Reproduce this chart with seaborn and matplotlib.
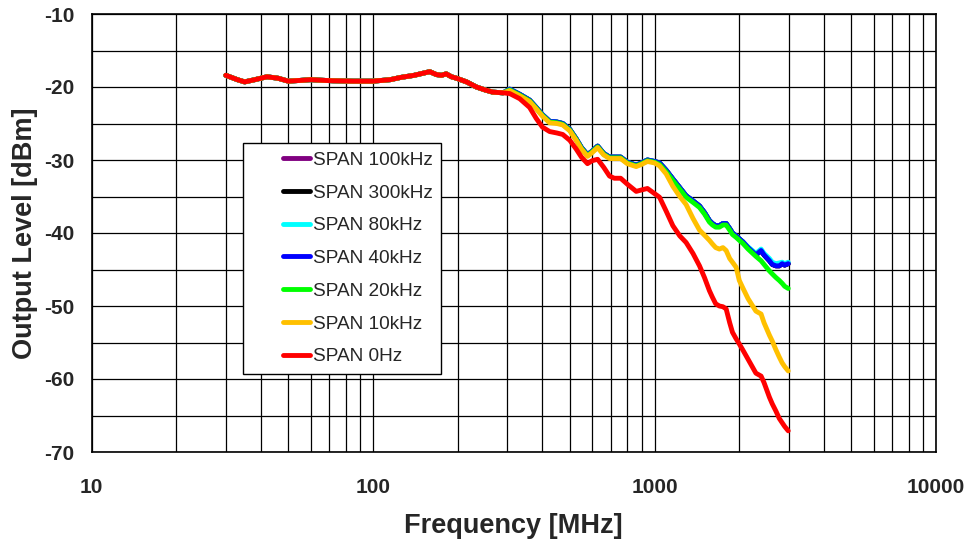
import numpy as np
import pandas as pd
import matplotlib
matplotlib.use("Agg")
import matplotlib.pyplot as plt
import seaborn as sns
from matplotlib.ticker import FixedLocator, NullFormatter
from matplotlib.legend_handler import HandlerLine2D
from matplotlib.lines import Line2D

# ---------------- data ----------------
freq_mhz = [30, 33, 35, 38, 42, 46, 50, 55, 60, 72, 85, 100, 115, 125, 140, 159,
            168, 175, 182, 190, 198, 215, 233, 250, 266, 290, 306, 332, 360, 380,
            400, 424, 450, 472, 500, 527, 550, 578, 600, 628, 660, 692, 720, 758,
            800, 861, 900, 944, 1000, 1042, 1100, 1162, 1230, 1295, 1370, 1445,
            1505, 1567, 1606, 1650, 1700, 1750, 1797, 1850, 1892, 1950, 2001, 2058,
            2150, 2292, 2391, 2450, 2560, 2620, 2700, 2775, 2842, 2900, 2986]

low_part = [-18.4, -19.0, -19.3, -19.0, -18.6, -18.8, -19.2, -19.1, -19.0, -19.15,
            -19.2, -19.2, -19.0, -18.7, -18.4, -17.9, -18.3, -18.4, -18.2, -18.6,
            -18.8, -19.3, -20.0, -20.4, -20.7, -20.8]

span_10k = low_part + [
    -20.5, -21.2, -22.0, -23.0, -24.0, -24.9, -25.0, -25.2, -26.0, -27.3, -28.5,
    -29.5, -29.0, -28.3, -29.3, -29.8, -29.8, -29.8, -30.5, -30.9, -30.6, -30.2,
    -30.4, -30.8, -31.9, -33.6, -35.0, -36.1, -38.0, -39.6, -40.3, -41.0, -41.5,
    -42.0, -42.2, -42.0, -42.4, -43.5, -44.0, -44.7, -46.5, -47.5, -49.0, -50.7,
    -51.1, -52.3, -54.0, -54.8, -56.0, -57.0, -57.8, -58.3, -58.9]

span_20k = low_part + [
    -20.4, -21.1, -21.9, -22.9, -23.9, -24.8, -24.9, -25.1, -25.9, -27.2, -28.4,
    -29.4, -28.9, -28.2, -29.2, -29.7, -29.7, -29.7, -30.4, -30.8, -30.5, -30.1,
    -30.3, -30.6, -31.6, -32.8, -34.0, -35.1, -35.8, -36.5, -37.4, -38.5, -38.9,
    -39.2, -39.2, -38.9, -38.9, -39.6, -40.2, -40.6, -41.0, -41.4, -42.2, -43.2,
    -43.8, -44.3, -45.2, -45.6, -46.1, -46.5, -46.9, -47.3, -47.6]

span_40k = low_part + [
    -20.3, -21.0, -21.8, -22.8, -23.8, -24.7, -24.8, -25.0, -25.8, -27.1, -28.3,
    -29.3, -28.8, -28.1, -29.1, -29.6, -29.6, -29.6, -30.3, -30.7, -30.4, -30.0,
    -30.2, -30.4, -31.4, -32.6, -33.8, -34.9, -35.6, -36.3, -37.2, -38.3, -38.7,
    -39.0, -39.0, -38.7, -38.7, -39.4, -40.0, -40.4, -40.8, -41.2, -42.0, -43.0,
    -42.4, -43.0, -43.8, -44.3, -44.5, -44.5, -44.2, -44.4, -44.2]

span_80k = low_part + [
    -20.3, -21.0, -21.8, -22.8, -23.8, -24.7, -24.8, -25.0, -25.8, -27.1, -28.3,
    -29.3, -28.8, -28.1, -29.1, -29.6, -29.6, -29.6, -30.3, -30.7, -30.4, -30.0,
    -30.2, -30.4, -31.4, -32.6, -33.8, -34.9, -35.6, -36.3, -37.2, -38.3, -38.7,
    -39.0, -39.0, -38.7, -38.7, -39.4, -40.0, -40.4, -40.8, -41.2, -41.9, -42.8,
    -42.2, -42.8, -43.5, -44.0, -44.2, -44.1, -44.0, -44.2, -44.0]

span_300k = list(span_40k)
span_100k = list(span_40k)

span_0 = low_part + [
    -20.9, -21.6, -22.8, -24.3, -25.5, -26.1, -26.3, -26.5, -27.3, -28.5, -29.6,
    -30.5, -30.1, -29.9, -31.0, -32.2, -32.5, -32.5, -33.3, -34.3, -34.1, -33.9,
    -34.6, -35.1, -37.0, -39.0, -40.4, -41.3, -42.8, -44.5, -46.1, -47.9, -48.8,
    -49.7, -50.0, -50.1, -50.4, -52.3, -53.6, -54.5, -55.2, -56.0, -57.3, -59.2,
    -59.6, -60.5, -62.5, -63.4, -64.4, -65.4, -66.0, -66.5, -67.1]

series_names = ["SPAN 100kHz", "SPAN 300kHz", "SPAN 80kHz", "SPAN 40kHz",
                "SPAN 20kHz", "SPAN 10kHz", "SPAN 0Hz"]
series_values = [span_100k, span_300k, span_80k, span_40k, span_20k, span_10k, span_0]
series_colors = ["#800080", "#000000", "#00FFFF", "#0000FF", "#00FF00", "#FFC000", "#FF0000"]

x_ticks = [10, 100, 1000, 10000]
y_ticks = [-70, -60, -50, -40, -30, -20, -10]

# ---------------- build frame ----------------
frames = []
for name, vals in zip(series_names, series_values):
    frames.append(pd.DataFrame({"Frequency": freq_mhz, "Level": vals, "Series": name}))
df = pd.concat(frames, ignore_index=True)


class ShortLineHandler(HandlerLine2D):
    """Draw the legend line only on the right part of the handle box."""
    def get_xdata(self, legend, xdescent, ydescent, width, height, fontsize):
        x0 = -xdescent + width * 0.54
        x1 = -xdescent + width
        return np.array([x0, x1]), np.array([x0, x1])


# ---------------- plot ----------------
sns.set_theme(style="white")
plt.rcParams["font.family"] = ["Liberation Sans", "DejaVu Sans"]

fig = plt.figure(figsize=(9.68, 5.41), dpi=100)
ax = fig.add_axes([91.5 / 968, 1 - 452 / 541, (936 - 91.5) / 968, (452 - 14) / 541])

sns.lineplot(data=df, x="Frequency", y="Level", hue="Series",
             hue_order=series_names, palette=series_colors,
             linewidth=3.5, ax=ax, legend=True, sort=False)

ax.set_xscale("log")
ax.set_xlim(10, 10000)
ax.set_ylim(-70, -10)

# grid
minor_x = [m * 10 ** e for e in range(1, 4) for m in range(2, 10)]
ax.xaxis.set_major_locator(FixedLocator(x_ticks))
ax.xaxis.set_minor_locator(FixedLocator(minor_x))
ax.xaxis.set_minor_formatter(NullFormatter())
ax.set_xticklabels([str(v) for v in x_ticks])
ax.yaxis.set_major_locator(FixedLocator(y_ticks))
ax.yaxis.set_minor_locator(FixedLocator([-65, -55, -45, -35, -25, -15]))
ax.set_yticklabels([str(v) for v in y_ticks])

ax.grid(True, which="both", color="black", linewidth=0.9)
ax.set_axisbelow(True)

for s in ax.spines.values():
    s.set_visible(True)
    s.set_color("black")
    s.set_linewidth(1.2)

ax.tick_params(axis="x", which="major", direction="out", length=4.5, width=1,
               color="black", labelsize=15, pad=14.5)
ax.tick_params(axis="y", which="major", direction="out", length=6, width=1,
               color="black", labelsize=15, pad=6.5)
ax.tick_params(axis="both", which="minor", length=0)
for lab in ax.get_xticklabels() + ax.get_yticklabels():
    lab.set_fontweight("bold")

ax.set_xlabel("Frequency [MHz]", fontsize=19.5, fontweight="bold", labelpad=11)
ax.set_ylabel("Output Level [dBm]", fontsize=19.5, fontweight="bold", labelpad=4)

handles, labels = ax.get_legend_handles_labels()
leg = ax.legend(handles, labels, loc="upper left",
                bbox_to_anchor=((243 - 91.5) / (936 - 91.5), (452 - 143) / (452 - 14)),
                borderaxespad=0,
                frameon=True, fancybox=False, edgecolor="black", framealpha=1,
                fontsize=13.7, handlelength=3.08, handletextpad=0.15,
                labelspacing=0.81, borderpad=0.45, title=None,
                handler_map={Line2D: ShortLineHandler()})
leg.get_frame().set_linewidth(1.0)
for line in leg.get_lines():
    line.set_linewidth(3.5)

fig.savefig("out.png", dpi=100)
